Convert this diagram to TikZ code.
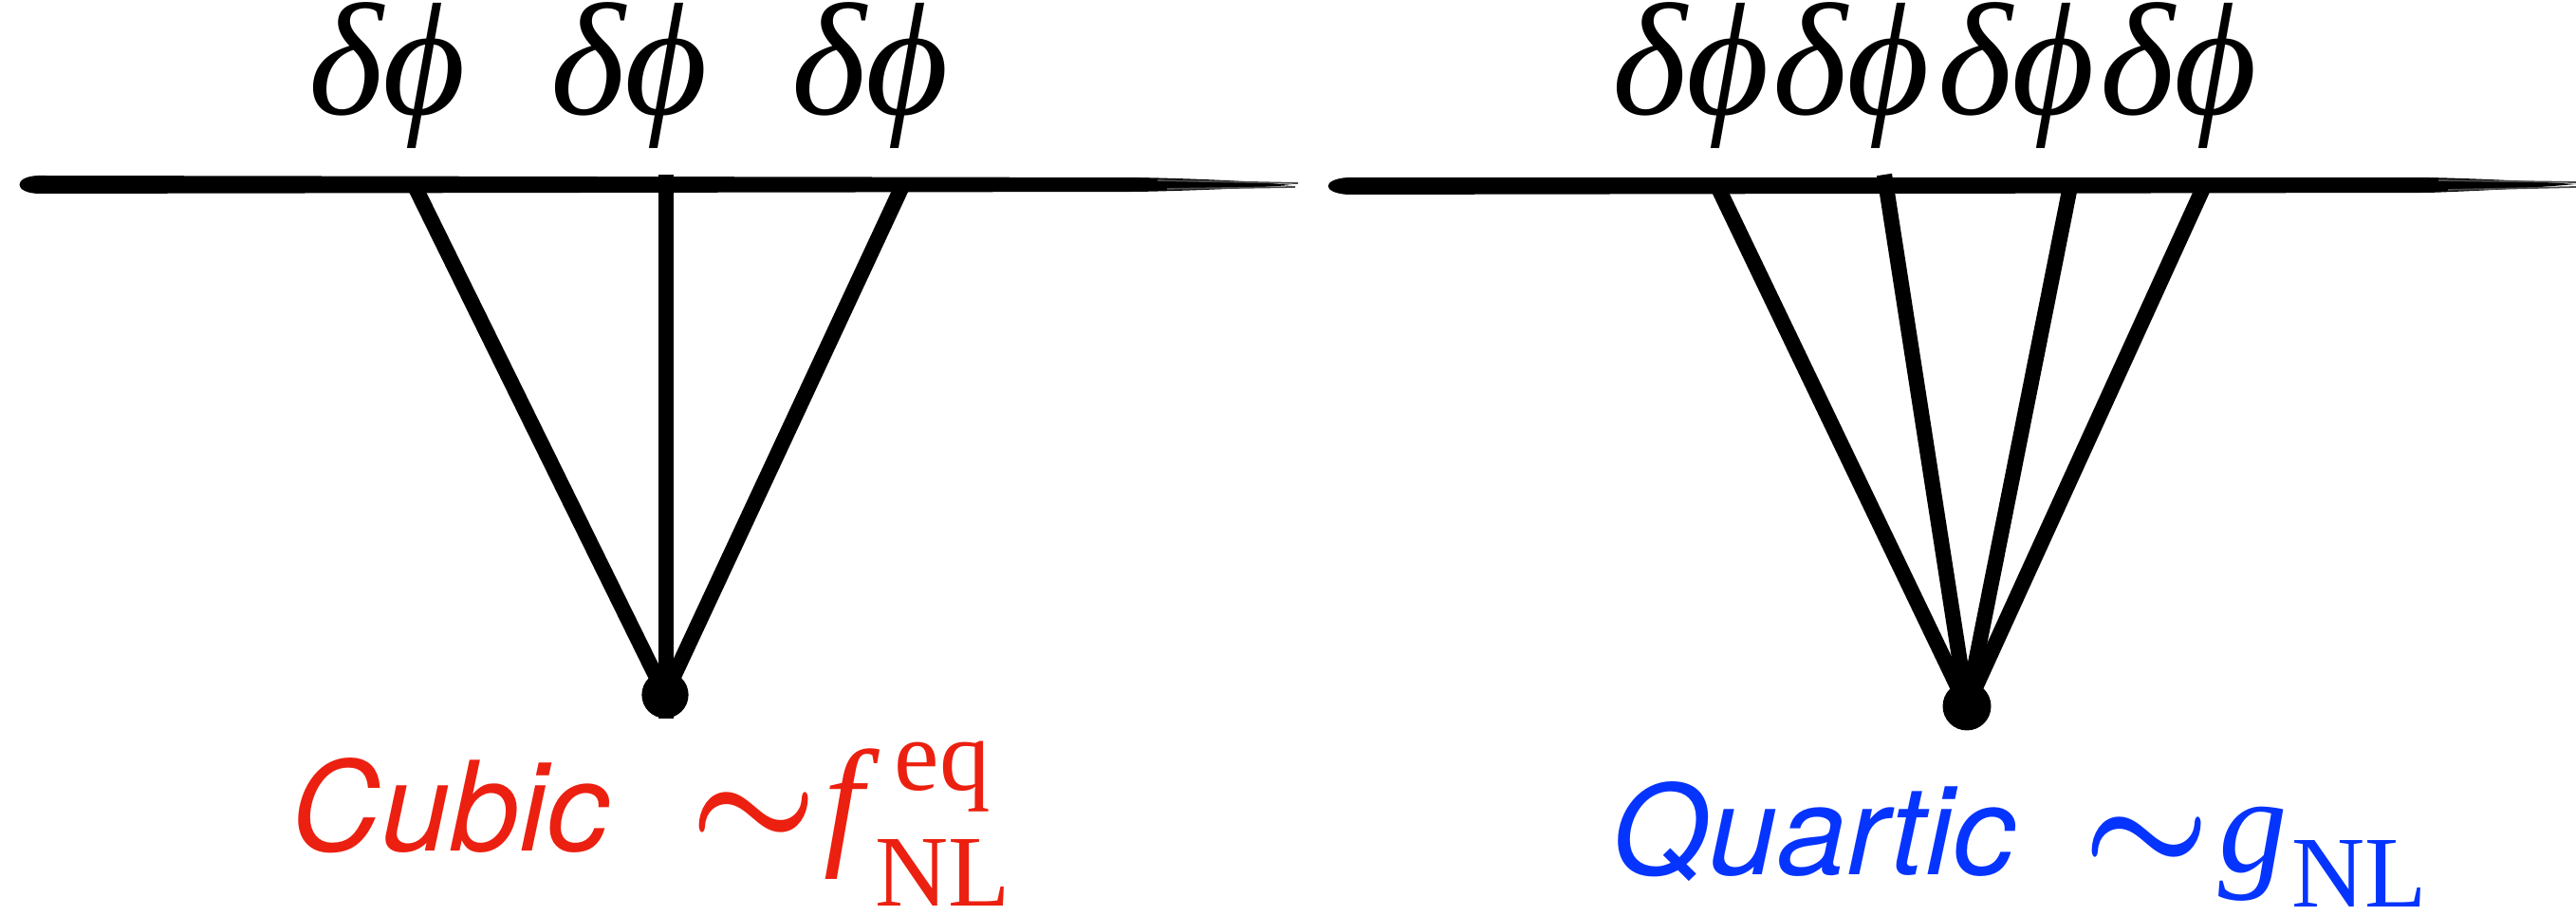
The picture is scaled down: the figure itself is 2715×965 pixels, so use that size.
\documentclass[tikz,border=0pt]{standalone}
\usepackage{fontspec}
\newfontfamily\helv{TeX Gyre Heros}
\newfontfamily\lser{Liberation Serif}
\definecolor{cubicred}{RGB}{236,32,16}
\definecolor{quarticblue}{RGB}{6,52,255}
\tikzset{
  leg/.style={line width=4.6pt, black},
  vtx/.style={circle, fill=black, inner sep=0pt, minimum size=14pt},
  fieldlab/.style={anchor=base, inner sep=0pt, font=\lser\itshape\fontsize{48}{48}\selectfont},
  wordlab/.style={anchor=base west, inner sep=0pt, font=\helv\itshape\fontsize{37.3}{37.3}\selectfont},
  simlab/.style={anchor=base west, inner sep=0pt, scale=4.27, font=\boldmath},
  mainlab/.style={anchor=base west, inner sep=0pt, font=\lser\itshape\fontsize{42.7}{42.7}\selectfont},
  scriptlab/.style={anchor=base west, inner sep=0pt, font=\lser\fontsize{30.4}{30.4}\selectfont},
  streak/.style={line width=0.5pt, black!70},
}
\begin{document}
\begin{tikzpicture}[x=0.01cm, y=-0.01cm]
\useasboundingbox (0,0) rectangle (2715,965);

% ---- brush strokes (horizontal lines) ----
\fill (40,185) -- (1200,187) .. controls (1290,189) and (1330,192) .. (1362,195)
  .. controls (1330,197) and (1290,200) .. (1200,202) -- (40,204)
  .. controls (14,203) and (14,186) .. (40,185) -- cycle;
\draw[streak] (1220,190) -- (1368,193);
\draw[streak] (1230,199) -- (1365,197);
\fill (1420,187) -- (2560,187) .. controls (2640,189) and (2680,192) .. (2715,194)
  .. controls (2680,197) and (2640,200) .. (2560,203) -- (1420,205)
  .. controls (1393,203) and (1393,189) .. (1420,187) -- cycle;
\draw[streak] (2570,190) -- (2715,192);
\draw[streak] (2580,200) -- (2715,197);

% ---- left (cubic) vertex ----
\coordinate (L1) at (437,196);
\coordinate (L2) at (702,184);
\coordinate (L3) at (951,196);
\coordinate (L2b) at (702,757);
\node[vtx] (LV) at (701,732) {};
\draw[leg] (L1) -- (LV.center);
\draw[leg] (L3) -- (LV.center);
\draw[leg] (L2) -- (L2b);

% ---- right (quartic) vertex ----
\coordinate (R1) at (1810,196);
\coordinate (R2) at (1986,184);
\coordinate (R3) at (2182,196);
\coordinate (R4) at (2323,196);
\node[vtx, minimum size=14.5pt] (RV) at (2073,744) {};
\draw[leg] (R1) -- (RV.center);
\draw[leg] (R2) -- (RV.center);
\draw[leg] (R3) -- (RV.center);
\draw[leg] (R4) -- (RV.center);

% ---- field labels ----
\node[fieldlab] (t1) at (408,121) {δϕ};
\node[fieldlab] (t2) at (663,121) {δϕ};
\node[fieldlab] (t3) at (917,121) {δϕ};
\node[fieldlab] (t4) at (1782,121) {δϕ};
\node[fieldlab] (t5) at (1951,121) {δϕ};
\node[fieldlab] (t6) at (2125,121) {δϕ};
\node[fieldlab] (t7) at (2296,121) {δϕ};

% ---- bottom labels ----
\node[wordlab, text=cubicred] (cub) at (306,897) {Cubic};
\node[simlab, text=cubicred] (cubs) at (724,894) {$\sim$};
\node[mainlab, text=cubicred] (cubf) at (868,895) {f};
\node[scriptlab, text=cubicred] (cube) at (942,833) {eq};
\node[scriptlab, text=cubicred] (cubn) at (922,955) {NL};

\node[wordlab, text=quarticblue] (qua) at (1698,922) {Quartic};
\node[simlab, text=quarticblue] (quas) at (2192,920) {$\sim$};
\node[mainlab, text=quarticblue, font=\lser\itshape\fontsize{41.3}{41.3}\selectfont] (quag) at (2338,919) {g};
\node[scriptlab, text=quarticblue] (quan) at (2415,956) {NL};
\end{tikzpicture}
\end{document}
